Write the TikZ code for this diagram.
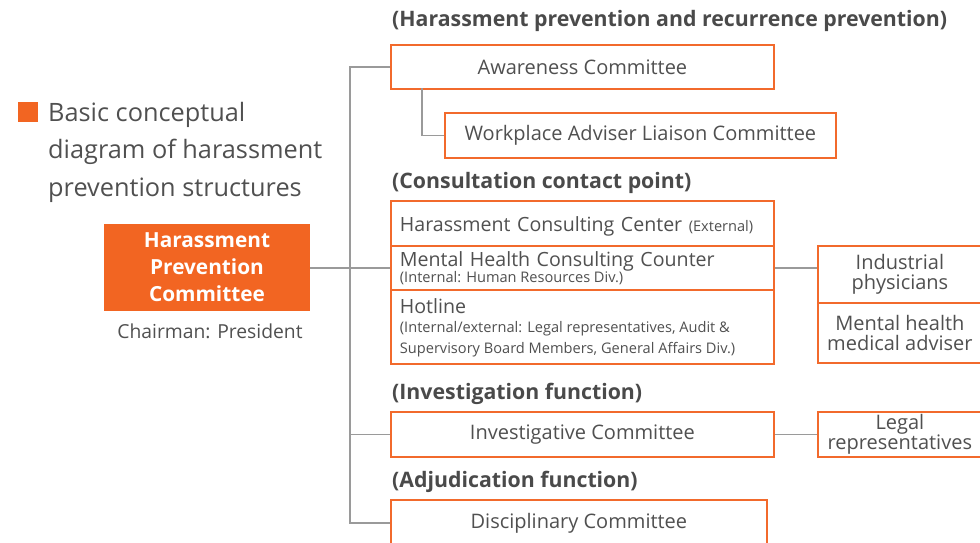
\documentclass[tikz,border=0pt]{standalone}
\usepackage{fontspec}
\setmainfont{Open Sans}
\usetikzlibrary{positioning}
\definecolor{brand}{HTML}{F26522}
\definecolor{edge}{HTML}{F26A2C}
\definecolor{ink}{HTML}{505050}
\definecolor{head}{HTML}{4A4A4A}
\definecolor{wire}{HTML}{9A9A9A}
% small annotation text with the font's own word spacing
\newcommand{\notetext}[1]{{\fontsize{14.6}{19.5}\selectfont\spaceskip=0pt\xspaceskip=0pt #1}}
% lower a line of text without changing its measured size
\newcommand{\lowered}[2]{\raisebox{-#1}[\height][\depth]{#2}}
\tikzset{
  box/.style={draw=edge, line width=1.8pt, fill=white, text=ink, inner sep=0pt,
    font=\fontsize{20}{21}\selectfont, align=center},
  rowbox/.style={box, minimum width=383pt, text width=365pt, inner xsep=9pt,
    align=left, anchor=north west, font=\fontsize{19.6}{21}\selectfont},
  sidebox/.style={box, minimum width=164pt, anchor=north west,
    font=\fontsize{20}{20.5}\selectfont},
  heading/.style={anchor=west, text=head, inner sep=0pt,
    font=\fontsize{21.3}{24}\selectfont\bfseries},
  conn/.style={draw=wire, line width=1.3pt}
}
\begin{document}
\begin{tikzpicture}[x=1pt,y=-1pt]
\useasboundingbox (0,0) rectangle (980,542);

% title block
\fill[brand] (18,102) rectangle (38,122);
\node[anchor=north west, text=ink, inner sep=0pt, align=left,
  font=\fontsize{25.3}{37.5}\selectfont] (title) at (48,102)
  {Basic conceptual\\diagram of harassment\\prevention structures};

% main committee
\node[fill=brand, text=white, minimum width=206pt, minimum height=87pt,
  inner sep=0pt, align=center, font=\fontsize{20.8}{27}\selectfont\bfseries]
  (hpc) at (207,267.5) {Harassment\\Prevention\\Committee};
\node[text=ink, font=\fontsize{19.3}{20}\selectfont, inner sep=0pt]
  (chair) at (210,331) {Chairman: President};

% section headings
\node[heading] (h1) at (392,21) {(Harassment prevention and recurrence prevention)};
\node[heading] (h2) at (392,183) {(Consultation contact point)};
\node[heading] (h3) at (392,394) {(Investigation function)};
\node[heading] (h4) at (392,482) {(Adjudication function)};

% prevention committees
\node[box, minimum width=383pt, minimum height=44pt, anchor=north west]
  (aw) at (390,44) {Awareness Committee};
\node[box, minimum width=391pt, minimum height=45pt, anchor=north west]
  (wp) at (444,112) {Workplace Adviser Liaison Committee};

% consultation contact points
\node[rowbox, minimum height=45pt] (hc) at (390,200)
  {\lowered{3pt}{Harassment Consulting Center \notetext{(External)}}};
\node[rowbox, minimum height=44pt] (mh) at (390,245)
  {Mental Health Consulting Counter\\[-5pt]
   \notetext{(Internal: Human Resources Div.)}};
\node[rowbox, minimum height=74pt] (hot) at (390,289)
  {\lowered{2pt}{Hotline}\\[1pt]
   \notetext{(Internal/external: Legal representatives, Audit \&\\
   Supervisory Board Members, General Affairs Div.)}};

% advisers
\node[sidebox, minimum height=57pt] (ip) at (817,245) {Industrial\\physicians};
\node[sidebox, minimum height=60pt] (mha) at (817,302) {Mental health\\medical adviser};

% investigation and adjudication
\node[box, minimum width=383pt, minimum height=45pt, anchor=north west]
  (inv) at (390,411) {Investigative Committee};
\node[sidebox, minimum height=45pt] (legal) at (817,411) {Legal\\representatives};
\node[box, minimum width=376pt, minimum height=46pt, anchor=north west]
  (disc) at (390,499) {Disciplinary Committee};

% connectors
\coordinate (spine) at (350,268);
\draw[conn] (aw.west) -| (spine) |- (disc.west);
\draw[conn] (hpc.east |- spine) -- (mh.west |- spine);
\draw[conn] (spine |- inv.west) -- (inv.west);
\draw[conn] (422,88) |- (wp.west);
\draw[conn] (mh.east) -- (mh.east -| ip.west);
\draw[conn] (inv.east) -- (legal.west);
\end{tikzpicture}
\end{document}
